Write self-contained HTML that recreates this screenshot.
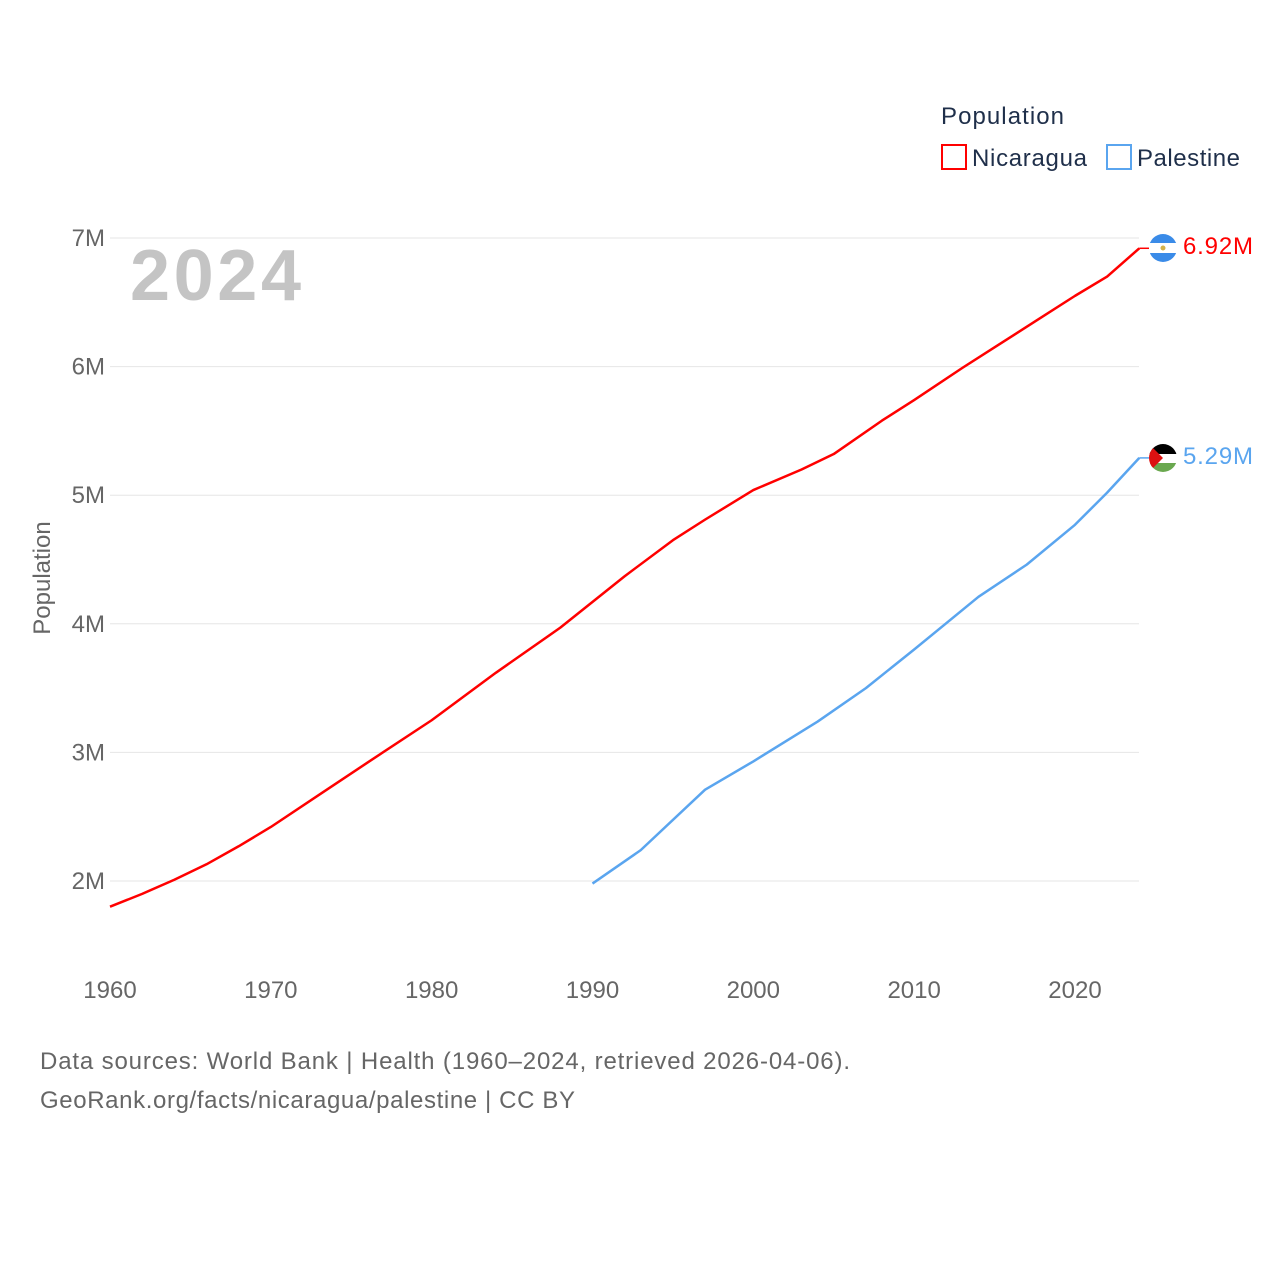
<!DOCTYPE html>
<html><head><meta charset="utf-8"><style>
body{margin:0;background:#fff;font-family:"Liberation Sans",sans-serif}
svg text{font-family:"Liberation Sans",sans-serif}
</style></head><body>
<svg width="1280" height="1280" id="chart">
<g id="grid"></g><g id="axes"></g><g id="lines"></g>
<text x="130" y="300" font-size="72" font-weight="bold" fill="#c4c4c4" textLength="171">2024</text>
<text x="50" y="578" font-size="24" fill="#666" transform="rotate(-90 50 578)" text-anchor="middle">Population</text>
<text x="941" y="124" font-size="24" fill="#1f2f4a" textLength="123">Population</text>
<g><rect x="942" y="145" width="24" height="24" fill="none" stroke="#f00" stroke-width="2"/><text x="972" y="166" font-size="24" fill="#1f2f4a" textLength="115">Nicaragua</text></g>
<g><rect x="1107" y="145" width="24" height="24" fill="none" stroke="#5aa5ef" stroke-width="2"/><text x="1137" y="166" font-size="24" fill="#1f2f4a" textLength="103">Palestine</text></g>
<g><clipPath id="c1"><circle cx="1163" cy="248" r="14"/></clipPath><g clip-path="url(#c1)"><rect x="1149" y="234" width="28" height="28" fill="#fff"/><rect x="1149" y="234" width="28" height="9" fill="#3a8be8"/><rect x="1149" y="253" width="28" height="9" fill="#3a8be8"/><circle cx="1163" cy="248" r="2.5" fill="#d4b24a"/></g></g>
<g><clipPath id="c2"><circle cx="1163" cy="458" r="14"/></clipPath><g clip-path="url(#c2)"><rect x="1149" y="444" width="28" height="10" fill="#000"/><rect x="1149" y="454" width="28" height="9" fill="#fff"/><rect x="1149" y="463" width="28" height="10" fill="#6aa84f"/><polygon points="1149,444 1163,458 1149,472" fill="#d11"/></g></g>
<text x="1183" y="254" font-size="24" fill="#f00" textLength="70">6.92M</text>
<text x="1183" y="464" font-size="24" fill="#5aa5ef" textLength="70">5.29M</text>
<text x="40" y="1069" font-size="24" fill="#666" textLength="810">Data sources: World Bank | Health (1960–2024, retrieved 2026-04-06).</text>
<text x="40" y="1108" font-size="24" fill="#666" textLength="535">GeoRank.org/facts/nicaragua/palestine | CC BY</text>
</svg>
<script>
const yTicks=[2,3,4,5,6,7];
const yTickLabels=["2M","3M","4M","5M","6M","7M"];
const xTicks=[1960,1970,1980,1990,2000,2010,2020];
const nicYears=[1960,1962,1964,1966,1968,1970,1973,1976,1980,1984,1988,1992,1995,1997,2000,2003,2005,2008,2010,2013,2015,2018,2020,2022,2024];
const nicValues=[1.80,1.90,2.01,2.13,2.27,2.42,2.67,2.92,3.25,3.62,3.97,4.37,4.65,4.81,5.04,5.20,5.32,5.58,5.74,5.99,6.15,6.39,6.55,6.70,6.92];
const palYears=[1990,1993,1997,2000,2004,2007,2010,2014,2017,2020,2022,2024];
const palValues=[1.98,2.24,2.71,2.93,3.24,3.50,3.80,4.21,4.46,4.77,5.02,5.29];
const X=y=>110+(y-1960)*16.083, Y=v=>881-(v-2)*128.6;
const ns="http://www.w3.org/2000/svg";
const grid=document.getElementById('grid'),axes=document.getElementById('axes'),lines=document.getElementById('lines');
yTicks.forEach((t,i)=>{
 const l=document.createElementNS(ns,'line');
 l.setAttribute('x1',110);l.setAttribute('x2',1139);l.setAttribute('y1',Y(t));l.setAttribute('y2',Y(t));l.setAttribute('stroke','#e6e6e6');
 
 
 grid.appendChild(l);
 const tx=document.createElementNS(ns,'text');
 tx.setAttribute('x',105);tx.setAttribute('y',Y(t)+8);tx.setAttribute('text-anchor','end');tx.setAttribute('font-size','24');tx.setAttribute('fill','#666');tx.textContent=yTickLabels[i];
 
 
 axes.appendChild(tx);
});
xTicks.forEach(t=>{
 const tx=document.createElementNS(ns,'text');
 tx.setAttribute('x',X(t));tx.setAttribute('y',998);tx.setAttribute('text-anchor','middle');tx.setAttribute('font-size','24');tx.setAttribute('fill','#666');tx.textContent=t;
 
 
 axes.appendChild(tx);
});
function line(ys,vs,c,name){
 const p=document.createElementNS(ns,'polyline');
 p.setAttribute('points',ys.map((y,i)=>X(y)+','+Y(vs[i])).join(' '));
 p.setAttribute('fill','none');p.setAttribute('stroke',c);p.setAttribute('stroke-width',2.5);p.setAttribute('stroke-linejoin','round');
 
 
 lines.appendChild(p);
 const e=document.createElementNS(ns,'line');
 const ey=Y(vs[vs.length-1]);
 e.setAttribute('x1',X(ys[ys.length-1]));e.setAttribute('x2',1149);e.setAttribute('y1',ey);e.setAttribute('y2',ey);e.setAttribute('stroke',c);e.setAttribute('stroke-width',1.5);
 
 
 lines.appendChild(e);
}
line(nicYears,nicValues,'#f00','nicaragua-line');
line(palYears,palValues,'#5aa5ef','palestine-line');
</script>
</body></html>
